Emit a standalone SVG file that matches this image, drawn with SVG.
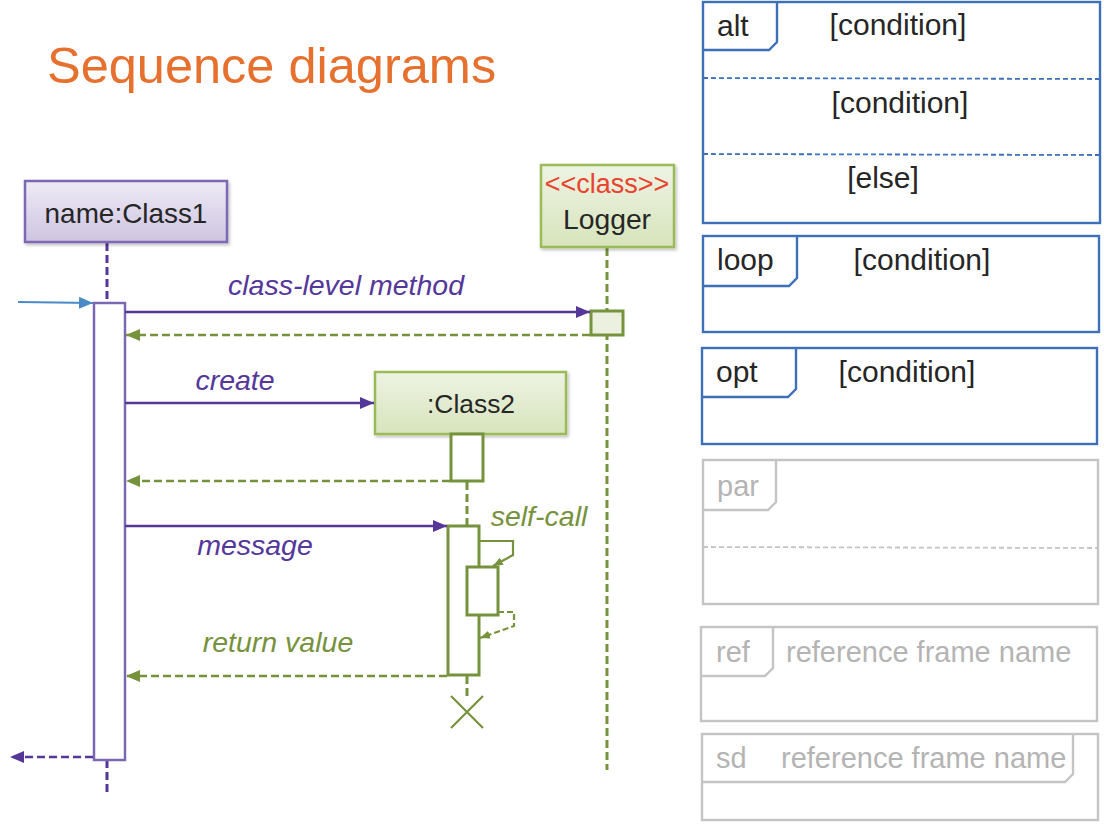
<svg xmlns="http://www.w3.org/2000/svg" width="1104" height="826" viewBox="0 0 1104 826">
<style>
.t{font-family:"Liberation Sans",Arial,sans-serif;}
.dark{fill:#262626;}
.it{font-style:italic;font-size:28.5px;}
.pur{fill:#55379A;}
.grn{fill:#76923C;}
.fr{fill:none;stroke:#3D70B8;stroke-width:2.4;}
.gfr{fill:none;stroke:#C4C4C4;stroke-width:2.4;}
.ft{font-size:30px;fill:#262626;}
.gft{font-size:29px;fill:#B4B4B4;}
.msg{stroke:#55379A;stroke-width:2.5;fill:none;}
.ret{stroke:#76923C;stroke-width:2.5;fill:none;stroke-dasharray:8,4;}
.act{fill:#FFFFFF;stroke:#76923C;stroke-width:3;}
</style>
<defs>
<linearGradient id="gp" x1="0" y1="0" x2="0" y2="1"><stop offset="0" stop-color="#EEEBF5"/><stop offset="1" stop-color="#CEC4E1"/></linearGradient>
<linearGradient id="gg" x1="0" y1="0" x2="0" y2="1"><stop offset="0" stop-color="#EEF3E3"/><stop offset="1" stop-color="#D7E4BC"/></linearGradient>
<filter id="sh" x="-10%" y="-10%" width="125%" height="130%"><feDropShadow dx="1.5" dy="2" stdDeviation="1.5" flood-color="#000" flood-opacity="0.25"/></filter>
<marker id="ap" viewBox="0 0 14 12" refX="14" refY="6" markerWidth="14" markerHeight="12" orient="auto" markerUnits="userSpaceOnUse"><path d="M0,0 L14,6 L0,12 z" fill="#55379A"/></marker>
<marker id="ag" viewBox="0 0 14 12" refX="14" refY="6" markerWidth="14" markerHeight="12" orient="auto" markerUnits="userSpaceOnUse"><path d="M0,0 L14,6 L0,12 z" fill="#76923C"/></marker>
<marker id="ags" viewBox="0 0 10 8" refX="10" refY="4" markerWidth="10" markerHeight="8" orient="auto" markerUnits="userSpaceOnUse"><path d="M0,0 L10,4 L0,8 z" fill="#76923C"/></marker>
<marker id="ab" viewBox="0 0 14 12" refX="14" refY="6" markerWidth="14" markerHeight="12" orient="auto" markerUnits="userSpaceOnUse"><path d="M0,0 L14,6 L0,12 z" fill="#4A8AC6"/></marker>
</defs>
<rect width="1104" height="826" fill="#FFFFFF"/>
<text class="t" x="47" y="83" font-size="50.5" fill="#E6702E">Sequence diagrams</text>

<g id="lifelines">
<line x1="107" y1="243" x2="107" y2="303" stroke="#55379A" stroke-width="3" stroke-dasharray="8,4"/>
<line x1="107" y1="760" x2="107" y2="795" stroke="#55379A" stroke-width="3" stroke-dasharray="8,4"/>
<line x1="607" y1="248" x2="607" y2="770" stroke="#76923C" stroke-width="3" stroke-dasharray="8,4"/>
<line x1="467" y1="482" x2="467" y2="526" stroke="#76923C" stroke-width="3" stroke-dasharray="8,4"/>
<line x1="467" y1="676" x2="467" y2="700" stroke="#76923C" stroke-width="3" stroke-dasharray="8,4"/>
</g>

<g id="class1">
<rect x="25" y="181" width="202" height="61" fill="url(#gp)" stroke="#7B68B3" stroke-width="2.5" filter="url(#sh)"/>
<text class="t dark" x="126" y="223" font-size="27.9" text-anchor="middle">name:Class1</text>
<rect x="94" y="303" width="31" height="457" fill="#FFFFFF" stroke="#7B68B3" stroke-width="2.5"/>
</g>

<g id="logger">
<rect x="541" y="165" width="133" height="82" fill="url(#gg)" stroke="#9BBB59" stroke-width="2.5" filter="url(#sh)"/>
<text class="t" x="607" y="193" font-size="27" text-anchor="middle" fill="#E8432E">&lt;&lt;class&gt;&gt;</text>
<text class="t dark" x="607" y="229" font-size="28.3" text-anchor="middle">Logger</text>
<rect x="591" y="311" width="32" height="24" fill="#EBF1DE" stroke="#76923C" stroke-width="3"/>
</g>

<g id="class2">
<rect x="375" y="372" width="191" height="62" fill="url(#gg)" stroke="#9BBB59" stroke-width="2.5" filter="url(#sh)"/>
<text class="t dark" x="471" y="413" font-size="26.4" text-anchor="middle">:Class2</text>
<rect class="act" x="451" y="434" width="32" height="47"/>
<rect class="act" x="448" y="526" width="31" height="149"/>
<rect class="act" x="467" y="567" width="31" height="48"/>
<path d="M451,696 L483,728 M483,696 L451,728" stroke="#76923C" stroke-width="2.2" fill="none"/>
</g>

<g id="connectors">
<line x1="18" y1="302" x2="93" y2="303" stroke="#4A8AC6" stroke-width="2.2" marker-end="url(#ab)"/>
<line class="msg" x1="125" y1="312" x2="590" y2="312" marker-end="url(#ap)"/>
<line class="ret" x1="590" y1="335" x2="126" y2="335" marker-end="url(#ag)"/>
<line class="msg" x1="125" y1="403" x2="374" y2="403" marker-end="url(#ap)"/>
<line class="ret" x1="450" y1="481" x2="126" y2="481" marker-end="url(#ag)"/>
<line class="msg" x1="125" y1="526" x2="447" y2="526" marker-end="url(#ap)"/>
<polyline points="479,541 513,541 513,555 493,566" stroke="#76923C" stroke-width="2.2" fill="none" marker-end="url(#ags)"/>
<polyline points="498,612 514,612 514,626 480,638" stroke="#76923C" stroke-width="2.2" fill="none" stroke-dasharray="6,3" marker-end="url(#ags)"/>
<line class="ret" x1="447" y1="676" x2="126" y2="676" marker-end="url(#ag)"/>
<line x1="93" y1="757" x2="10" y2="757" stroke="#55379A" stroke-width="2.5" stroke-dasharray="8,4" marker-end="url(#ap)"/>
<text class="t it pur" x="346" y="295" text-anchor="middle">class-level method</text>
<text class="t it pur" x="235" y="390" text-anchor="middle">create</text>
<text class="t it pur" x="255" y="555" text-anchor="middle">message</text>
<text class="t it grn" x="539" y="526" text-anchor="middle">self-call</text>
<text class="t it grn" x="278" y="652" text-anchor="middle">return value</text>
</g>

<g id="frame-alt">
<rect class="fr" x="703" y="2" width="397" height="221"/>
<path class="fr" d="M703,50 H769 L777,42 V2"/>
<line x1="703" y1="78" x2="1100" y2="79" stroke="#3D70B8" stroke-width="1.8" stroke-dasharray="5,3"/>
<line x1="703" y1="154" x2="1100" y2="155" stroke="#3D70B8" stroke-width="1.8" stroke-dasharray="5,3"/>
<text class="t ft" x="717" y="36">alt</text>
<text class="t ft" x="898" y="35" text-anchor="middle">[condition]</text>
<text class="t ft" x="900" y="113" text-anchor="middle">[condition]</text>
<text class="t ft" x="883" y="188" text-anchor="middle">[else]</text>
</g>

<g id="frame-loop">
<rect class="fr" x="703" y="236" width="396" height="96"/>
<path class="fr" d="M703,286 H789 L797,278 V236"/>
<text class="t ft" x="717" y="270">loop</text>
<text class="t ft" x="922" y="270" text-anchor="middle">[condition]</text>
</g>

<g id="frame-opt">
<rect class="fr" x="702" y="348" width="395" height="96"/>
<path class="fr" d="M702,397 H788 L796,389 V348"/>
<text class="t ft" x="716" y="382">opt</text>
<text class="t ft" x="907" y="382" text-anchor="middle">[condition]</text>
</g>

<g id="frame-par">
<rect class="gfr" x="703" y="460" width="395" height="144"/>
<path class="gfr" d="M703,510 H768 L776,502 V460"/>
<line x1="703" y1="547" x2="1098" y2="548" stroke="#C4C4C4" stroke-width="1.8" stroke-dasharray="5,3"/>
<text class="t gft" x="717" y="496">par</text>
</g>

<g id="frame-ref">
<rect class="gfr" x="701" y="627" width="396" height="94"/>
<path class="gfr" d="M701,676 H765 L773,668 V627"/>
<text class="t gft" x="716" y="662">ref</text>
<text class="t gft" x="786" y="662">reference frame name</text>
</g>

<g id="frame-sd">
<rect class="gfr" x="702" y="734" width="396" height="86"/>
<path class="gfr" d="M702,782 H1065 L1073,774 V734"/>
<text class="t gft" x="716" y="768">sd</text>
<text class="t gft" x="781" y="768">reference frame name</text>
</g>
</svg>
